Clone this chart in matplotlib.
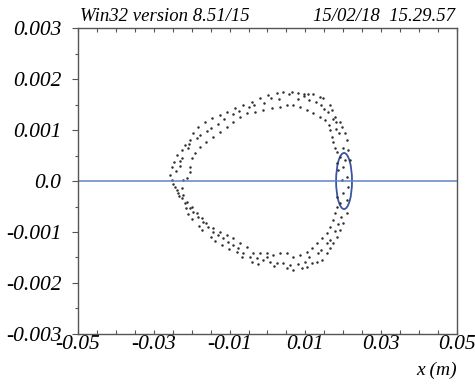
import matplotlib
matplotlib.use("Agg")
import matplotlib.pyplot as plt
from matplotlib.patches import Ellipse
import numpy as np

# particle positions, units of 1e-3 m
outer_x = [6.4, 8.1, 9.5, 10.8, 12.1, 13.9, 14.7, 16.5, 16.9, 17.8, 19.1, 19.6, 20.4, 20.9, 21.3, 21.8,
           20.9, 20.0, 19.1, 18.3, 17.4, 16.5, 15.6, 14.3, 13.0, 11.7, 10.3, 9.0, 6.8, 5.1, 2.4, 0.7,
           -1.1, -2.9, -4.6, -6.4, -7.7, -9.0, -10.3, -11.7, -13.0, -14.3, -15.6, -16.9, -18.3, -19.6,
           -20.4, -21.8, -22.6, -23.5, -24.4, -25.3, -25.7, -25.3, -24.8, -24.0, -22.6, -21.8, -20.4,
           -19.6, -18.3, -16.5, -14.7, -12.5, -10.8, -8.6, -6.4, -4.2, -2.0, 0.2, 2.4, 4.2]
outer_y = [1.752, 1.719, 1.706, 1.706, 1.706, 1.654, 1.621, 1.490, 1.392, 1.261, 1.163, 1.065, 0.935,
           0.804, 0.608, 0.412,
           -0.634, -0.830, -0.961, -1.092, -1.222, -1.320, -1.418, -1.549, -1.582, -1.614, -1.680,
           -1.712, -1.745, -1.712, -1.614, -1.582, -1.549, -1.516, -1.484, -1.418, -1.320, -1.255,
           -1.190, -1.124, -1.059, -0.993, -0.895, -0.797, -0.699, -0.601, -0.536, -0.438, -0.340,
           -0.242, -0.111, 0.020, 0.118, 0.281, 0.379, 0.510, 0.608, 0.706, 0.804, 0.935, 1.065,
           1.163, 1.229, 1.294, 1.359, 1.425, 1.490, 1.556, 1.621, 1.686, 1.719, 1.752]

inner_x = [5.1, 6.8, 8.6, 10.3, 12.1, 13.9, 15.2, 16.1, 16.5, 16.9, 17.4, 17.8, 18.3,
           18.3, 17.8, 17.4, 16.5, 15.6, 14.3, 13.0, 11.7, 10.3, 8.6, 6.8, 5.1, 3.3, 1.5, -0.2,
           -2.0, -3.7, -5.5, -7.3, -9.0, -10.8, -12.5, -14.3, -16.1, -17.4, -18.7, -20.0, -21.3,
           -22.2, -22.6, -22.2, -21.3, -20.4, -20.4, -20.0, -19.1, -17.8, -16.1, -14.3, -12.5,
           -10.8, -9.0, -7.3, -5.5, -3.3, -1.1, 1.1, 3.3]
inner_y = [1.490, 1.490, 1.458, 1.392, 1.327, 1.261, 1.196, 1.098, 1.000, 0.869, 0.771, 0.641, 0.575,
           -0.503, -0.634, -0.765, -0.895, -1.026, -1.124, -1.222, -1.320, -1.386, -1.451, -1.484,
           -1.418, -1.418, -1.451, -1.418, -1.418, -1.418, -1.288, -1.222, -1.124, -1.059, -0.993,
           -0.928, -0.830, -0.732, -0.634, -0.503, -0.405, -0.275, -0.144, 0.020, 0.052, 0.183,
           0.281, 0.444, 0.542, 0.673, 0.771, 0.869, 0.967, 1.065, 1.163, 1.261, 1.327, 1.359,
           1.392, 1.425, 1.458]

mid_x = [-24.2, -23.0, -23.4, -21.0, -18.0, -15.0, -12.0, -8.0, -4.0, 0.0, 4.0, 8.0, 11.0, 14.0,
         16.5, 18.5, 19.5, 19.8, 18.8, 18.0, 16.0, 14.0, 11.0, 8.0, 3.0, -1.0, -5.0, -9.0, -13.0,
         -16.0, -18.5, -21.0, -22.5,
         19.1, 20.4, 20.0, 20.9, 19.6, 21.3, 20.0, 20.9, 19.1, 18.3, 18.7, 18.3,
         -24.9, -23.9, -21.6, -19.9, -17.2, -13.8, -10.2, -6.8, -2.5, 1.8, 6.0, 9.8, 13.2, 15.8,
         17.9, 18.0, 17.2, 15.0, 12.8, 9.6, 5.6, 1.0, -3.5, -7.6, -11.4, -14.8, -17.8, -20.6, -23.2]
mid_y = [0.20, 0.30, -0.30, -0.65, -0.88, -1.10, -1.25, -1.40, -1.58, -1.50, -1.60, -1.62, -1.50,
         -1.35, -1.15, -0.85, -0.70, 0.65, 0.95, 1.15, 1.35, 1.50, 1.58, 1.60, 1.60, 1.52, 1.45,
         1.32, 1.12, 0.98, 0.85, 0.65, 0.45,
         0.477, 0.412, 0.281, 0.085, 0.020, -0.111, -0.242, -0.373, -0.438, -0.307, 0.216, 0.346,
         -0.05, -0.18, -0.52, -0.74, -0.96, -1.18, -1.34, -1.50, -1.62, -1.66, -1.64, -1.58, -1.42,
         -1.22, -0.98, 1.02, 1.22, 1.42, 1.55, 1.66, 1.70, 1.62, 1.50, 1.38, 1.22, 1.04, 0.90,
         0.72, 0.40]

# acceptance ellipse, m
ell_center = (0.0202, 0.0)
ell_width = 0.0042
ell_height = 0.0011

x_ticks = [-0.05, -0.03, -0.01, 0.01, 0.03, 0.05]
x_labels = ["-0.05", "-0.03", "-0.01", "0.01", "0.03", "0.05"]
y_ticks = [0.003, 0.002, 0.001, 0.0, -0.001, -0.002, -0.003]
y_labels = ["0.003", "0.002", "0.001", "0.0", "-0.001", "-0.002", "-0.003"]

serif = ["Liberation Serif", "DejaVu Serif"]

fig = plt.figure(figsize=(4.75, 3.88), dpi=100)
ax = fig.add_axes([0.1642, 0.1392, 0.7979, 0.7886])

px = np.concatenate([outer_x, inner_x, mid_x]) * 1e-3
py = np.concatenate([outer_y, inner_y, mid_y]) * 1e-3
ax.plot(px, py, ".", color="#303030", markersize=3.6, markeredgewidth=0)

ax.axhline(0.0, color="#5f82c8", linewidth=1.1)
ax.add_patch(Ellipse(ell_center, ell_width, ell_height, fill=False,
                     edgecolor="#3a56a0", linewidth=1.3))

ax.set_xlim(-0.05, 0.05)
ax.set_ylim(-0.003, 0.003)
ax.set_xticks(x_ticks)
ax.set_xticklabels(x_labels)
ax.set_xticks(np.arange(-0.05, 0.0501, 0.005), minor=True)
ax.set_yticks(y_ticks)
ax.set_yticklabels(y_labels)
ax.set_yticks(np.arange(-0.003, 0.00301, 0.0005), minor=True)

for lab in ax.get_xticklabels() + ax.get_yticklabels():
    lab.set_family(serif)
    lab.set_style("italic")
    lab.set_fontsize(15.5)

ax.tick_params(axis="x", which="both", direction="in", top=True, bottom=True,
               length=3, width=0.8, color="#555555", pad=1)
ax.tick_params(axis="x", which="minor", labelbottom=False)
ax.tick_params(axis="y", which="major", direction="out", left=True, right=False,
               length=4, width=0.8, color="#555555", pad=8)
ax.tick_params(axis="y", which="minor", direction="out", left=True, right=False,
               length=2.5, width=0.8, color="#555555")

for sp in ax.spines.values():
    sp.set_color("#555555")
    sp.set_linewidth(1.0)

fig.text(80 / 475, 1 - 21 / 388, "Win32 version 8.51/15", family=serif, style="italic",
         fontsize=13.5, ha="left", va="baseline")
fig.text(455 / 475, 1 - 21 / 388, "15/02/18  15.29.57", family=serif, style="italic",
         fontsize=13.5, ha="right", va="baseline")
fig.text(457 / 475, 1 - 375 / 388, "x (m)", family=serif, style="italic",
         fontsize=14, ha="right", va="baseline")

fig.savefig("out.png", dpi=100)
